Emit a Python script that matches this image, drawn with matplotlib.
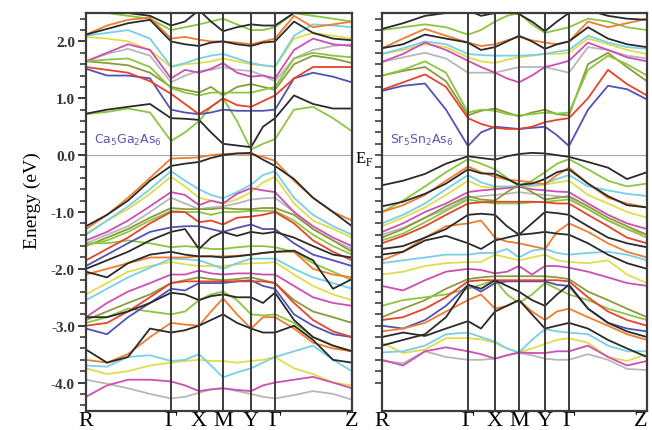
"""
Band structures of Ca5Ga2As6 and Sr5Sn2As6 along R-G-X-M-Y-G-Z.
Energies (eV) read off the reference picture at a fixed set of k nodes.
"""

import numpy as np
import matplotlib.pyplot as plt
from matplotlib.ticker import MultipleLocator, FuncFormatter

# k-node positions (arbitrary path units) and high-symmetry points
K_CA = [0, 21, 42, 64, 85, 99, 113, 125, 137, 151, 165, 177, 189, 208, 227, 247, 266]
K_SR = [0, 21, 43, 64, 86, 99, 113, 125, 137, 150, 163, 175, 187, 206, 226, 245, 265]
SYM_IDX = [0, 4, 6, 8, 10, 12, 16]
K_LABELS = ['R', 'Γ', 'X', 'M', 'Y', 'Γ', 'Z']

# ---- Ca5Ga2As6 ----
ca_black = [
    [0.73, 0.80, 0.85, 0.90, 0.65, 0.64, 0.62, 0.40, 0.20, 0.17, 0.14, 0.50, 0.65, 1.05, 0.90, 0.82, 0.82],
    [2.12, 2.22, 2.32, 2.38, 2.00, 1.95, 1.92, 1.98, 2.00, 1.95, 1.92, 1.98, 2.00, 2.35, 2.15, 2.05, 2.02],
    [2.60, 2.60, 2.50, 2.45, 2.28, 2.35, 2.55, 2.35, 2.18, 2.25, 2.30, 2.28, 2.28, 2.50, 2.60, 2.60, 2.60],
    [-1.25, -1.05, -0.80, -0.45, -0.19, -0.15, -0.12, -0.05, 0.00, 0.03, 0.04, -0.08, -0.19, -0.42, -0.75, -1.00, -1.25],
    [-2.00, -1.85, -1.70, -1.50, -1.35, -1.30, -1.65, -1.45, -1.35, -1.42, -1.35, -1.38, -1.35, -1.45, -1.60, -1.75, -1.80],
    [-2.05, -2.15, -1.90, -1.75, -1.70, -1.75, -1.78, -1.78, -1.80, -1.78, -1.75, -1.72, -1.70, -1.68, -1.85, -2.35, -2.18],
    [-2.85, -2.85, -2.75, -2.60, -2.42, -2.45, -2.55, -2.48, -2.45, -2.50, -2.50, -2.60, -2.42, -2.90, -3.20, -3.35, -3.45],
    [-3.42, -3.65, -3.55, -3.05, -3.12, -3.08, -3.00, -2.90, -2.80, -2.95, -3.05, -3.12, -3.12, -3.00, -3.25, -3.60, -3.65],
]
ca_green = [
    [0.72, 0.76, 0.82, 0.75, 0.25, 0.40, 0.60, 0.85, 1.00, 0.60, 0.10, 0.20, 0.28, 0.80, 0.85, 0.65, 0.42],
    [1.65, 1.68, 1.70, 1.55, 1.18, 1.10, 1.05, 1.10, 1.10, 1.10, 1.10, 1.15, 1.20, 1.70, 1.80, 1.75, 1.72],
    [2.55, 2.50, 2.45, 2.40, 2.20, 2.25, 2.30, 2.35, 2.40, 2.30, 2.20, 2.20, 2.25, 2.50, 2.45, 2.40, 2.35],
    [-1.58, -1.50, -1.35, -1.15, -0.98, -1.00, -1.00, -1.05, -1.00, -1.00, -0.98, -0.98, -0.98, -1.15, -1.40, -1.60, -1.75],
    [-1.55, -1.55, -1.50, -1.55, -1.62, -1.60, -1.62, -1.65, -1.65, -1.62, -1.60, -1.60, -1.62, -1.70, -1.90, -2.05, -2.20],
    [-2.95, -2.85, -2.70, -2.75, -2.80, -2.75, -2.55, -2.45, -2.40, -2.55, -2.80, -2.82, -2.80, -2.95, -3.20, -3.35, -3.45],
]
ca_blue = [
    [1.52, 1.40, 1.40, 1.35, 0.80, 0.75, 0.72, 0.75, 0.80, 0.78, 0.78, 0.78, 0.80, 1.35, 1.45, 1.38, 1.28],
    [-1.95, -1.75, -1.55, -1.35, -1.27, -1.25, -1.25, -1.30, -1.35, -1.28, -1.22, -1.30, -1.30, -1.55, -1.75, -1.85, -1.95],
    [-3.05, -3.15, -2.85, -2.60, -2.35, -2.38, -2.25, -2.25, -2.25, -2.22, -2.20, -2.30, -2.35, -2.80, -3.00, -3.15, -3.20],
]
ca_red = [
    [1.55, 1.50, 1.45, 1.30, 1.08, 0.90, 0.72, 0.85, 1.00, 0.88, 0.85, 0.95, 1.05, 1.35, 1.55, 1.55, 1.55],
    [-1.85, -1.65, -1.45, -1.20, -1.00, -1.00, -1.18, -1.15, -1.22, -1.10, -1.08, -1.05, -1.00, -1.20, -1.50, -1.70, -1.85],
    [-3.00, -2.95, -2.75, -2.50, -2.25, -2.22, -2.22, -2.22, -2.22, -2.22, -2.22, -2.22, -2.25, -2.60, -2.90, -3.10, -3.20],
]
ca_magenta = [
    [1.65, 1.80, 1.95, 1.85, 1.35, 1.50, 1.45, 1.52, 1.62, 1.45, 1.38, 1.40, 1.35, 1.85, 2.05, 1.95, 1.92],
    [-1.50, -1.35, -1.15, -0.90, -0.65, -0.70, -0.88, -0.80, -0.85, -0.68, -0.58, -0.62, -0.65, -1.00, -1.25, -1.45, -1.60],
    [-2.85, -2.60, -2.40, -2.25, -2.10, -2.10, -2.03, -2.08, -2.10, -2.08, -2.08, -2.10, -2.10, -2.30, -2.50, -2.60, -2.65],
    [-4.25, -4.05, -3.95, -3.95, -3.98, -4.05, -4.15, -4.12, -4.10, -4.13, -4.15, -4.05, -4.00, -3.95, -3.90, -4.00, -4.10],
]
ca_gray = [
    [1.65, 1.78, 1.87, 1.75, 1.28, 1.40, 1.48, 1.50, 1.55, 1.50, 1.48, 1.40, 1.30, 1.70, 1.85, 1.92, 1.95],
    [-1.55, -1.40, -1.25, -1.00, -0.75, -0.85, -0.95, -0.92, -0.90, -0.85, -0.78, -0.76, -0.75, -1.00, -1.30, -1.50, -1.65],
    [-3.95, -4.02, -4.10, -4.20, -4.28, -4.25, -4.18, -4.12, -4.10, -4.15, -4.20, -4.25, -4.28, -4.22, -4.15, -4.20, -4.30],
]
ca_yellow = [
    [2.08, 2.05, 2.00, 1.85, 1.55, 1.60, 1.62, 1.65, 1.70, 1.65, 1.60, 1.58, 1.55, 2.05, 2.15, 2.10, 2.05],
    [-1.38, -1.15, -0.95, -0.68, -0.38, -0.55, -0.75, -0.80, -0.85, -0.78, -0.65, -0.48, -0.38, -0.85, -1.15, -1.30, -1.45],
    [-2.45, -2.25, -2.05, -1.95, -1.88, -1.92, -1.95, -1.95, -1.95, -1.92, -1.90, -1.90, -1.88, -2.10, -2.30, -2.45, -2.55],
    [-3.75, -3.85, -3.80, -3.70, -3.65, -3.62, -3.60, -3.62, -3.62, -3.65, -3.62, -3.60, -3.55, -3.75, -3.85, -4.00, -4.05],
]
ca_cyan = [
    [2.10, 2.15, 2.20, 2.05, 1.56, 1.62, 1.70, 1.75, 1.78, 1.70, 1.62, 1.58, 1.56, 2.10, 2.30, 2.28, 2.25],
    [-1.40, -1.15, -0.90, -0.60, -0.28, -0.45, -0.60, -0.70, -0.76, -0.65, -0.52, -0.35, -0.28, -0.75, -1.05, -1.25, -1.40],
    [-2.55, -2.35, -2.15, -1.98, -1.82, -1.83, -1.85, -1.92, -2.00, -1.90, -1.82, -1.82, -1.82, -2.00, -2.15, -2.25, -2.35],
    [-3.70, -3.72, -3.55, -3.52, -3.62, -3.60, -3.50, -3.70, -3.91, -3.82, -3.75, -3.65, -3.55, -3.45, -3.35, -3.60, -3.80],
]
ca_olive = [
    [1.65, 1.62, 1.58, 1.45, 1.20, 1.15, 1.10, 1.20, 1.05, 1.20, 1.25, 1.20, 1.15, 1.60, 1.75, 1.70, 1.62],
    [-1.60, -1.45, -1.30, -1.10, -0.93, -0.95, -0.95, -0.95, -0.93, -0.95, -0.95, -0.93, -0.93, -1.05, -1.30, -1.50, -1.70],
    [-2.90, -2.75, -2.60, -2.45, -2.25, -2.20, -2.15, -2.18, -2.20, -2.18, -2.15, -2.20, -2.25, -2.55, -2.75, -2.85, -2.95],
]
ca_orange = [
    [2.12, 2.28, 2.38, 2.42, 2.05, 2.08, 2.03, 2.00, 2.00, 1.98, 1.95, 2.00, 2.05, 2.45, 2.25, 2.30, 2.35],
    [-1.30, -1.05, -0.75, -0.40, -0.06, -0.05, -0.04, 0.00, 0.02, 0.03, 0.02, -0.03, -0.10, -0.45, -0.75, -1.00, -1.15],
    [-2.10, -2.00, -1.90, -1.80, -1.80, -1.80, -1.78, -1.78, -1.78, -1.77, -1.75, -1.72, -1.70, -1.70, -2.00, -2.10, -2.15],
    [-3.60, -3.65, -3.50, -3.20, -2.95, -2.98, -3.00, -2.75, -2.52, -2.80, -3.05, -2.85, -2.85, -3.05, -3.30, -3.40, -3.45],
]

# ---- Sr5Sn2As6 ----
sr_black = [
    [1.88, 1.95, 2.12, 2.05, 1.98, 1.85, 1.90, 2.00, 2.10, 2.00, 1.87, 1.95, 2.00, 2.25, 2.05, 1.95, 1.90],
    [2.22, 2.32, 2.45, 2.50, 2.55, 2.45, 2.50, 2.55, 2.48, 2.35, 2.18, 2.35, 2.50, 2.55, 2.45, 2.40, 2.38],
    [-0.53, -0.45, -0.33, -0.15, -0.02, -0.05, -0.08, -0.02, 0.02, 0.04, 0.03, 0.00, -0.03, -0.12, -0.22, -0.42, -0.30],
    [-0.90, -0.82, -0.68, -0.50, -0.25, -0.32, -0.33, -0.42, -0.52, -0.50, -0.42, -0.30, -0.25, -0.50, -0.72, -0.88, -0.92],
    [-1.65, -1.60, -1.45, -1.30, -1.05, -1.03, -1.05, -1.25, -1.40, -1.20, -1.00, -1.02, -1.05, -1.25, -1.45, -1.55, -1.62],
    [-1.75, -1.70, -1.50, -1.42, -1.55, -1.65, -1.50, -1.45, -1.40, -1.38, -1.35, -1.38, -1.40, -1.55, -1.75, -1.90, -2.00],
    [-3.35, -3.25, -3.15, -2.85, -2.28, -2.35, -2.20, -2.30, -2.40, -2.55, -2.65, -2.45, -2.28, -2.70, -2.95, -3.10, -3.20],
    [-3.20, -3.12, -3.18, -3.05, -2.92, -3.05, -2.75, -2.65, -2.55, -2.80, -3.05, -3.00, -2.95, -3.05, -3.25, -3.40, -3.55],
]
sr_green = [
    [1.40, 1.50, 1.65, 1.45, 0.75, 0.80, 0.78, 0.72, 0.70, 0.72, 0.75, 0.73, 0.75, 1.50, 1.75, 1.60, 1.40],
    [2.20, 2.25, 2.30, 2.25, 2.12, 2.20, 2.35, 2.45, 2.50, 2.30, 2.15, 2.20, 2.25, 2.40, 2.35, 2.25, 2.20],
    [-1.00, -0.80, -0.55, -0.30, -0.07, -0.15, -0.25, -0.40, -0.55, -0.45, -0.30, -0.15, -0.07, -0.25, -0.45, -0.55, -0.50],
    [-1.50, -1.38, -1.18, -0.98, -0.78, -0.82, -0.85, -0.85, -0.85, -0.83, -0.82, -0.80, -0.78, -0.95, -1.15, -1.30, -1.45],
    [-2.65, -2.55, -2.50, -2.45, -2.35, -2.28, -2.20, -2.45, -2.60, -2.45, -2.25, -2.35, -2.45, -2.55, -2.70, -2.80, -2.90],
]
sr_blue = [
    [1.13, 1.22, 1.26, 0.80, 0.16, 0.40, 0.50, 0.48, 0.46, 0.48, 0.50, 0.35, 0.16, 0.80, 1.22, 1.16, 0.98],
    [-3.00, -3.05, -2.90, -2.65, -2.28, -2.40, -2.25, -2.22, -2.22, -2.22, -2.22, -2.28, -2.30, -2.70, -2.95, -3.05, -3.10],
]
sr_red = [
    [1.15, 1.28, 1.42, 1.20, 0.65, 0.55, 0.48, 0.46, 0.46, 0.50, 0.58, 0.62, 0.65, 1.00, 1.50, 1.25, 1.05],
    [-1.55, -1.42, -1.25, -1.05, -0.85, -0.83, -0.82, -0.82, -0.82, -0.82, -0.83, -0.85, -0.85, -1.05, -1.25, -1.45, -1.55],
    [-2.90, -2.85, -2.70, -2.50, -2.22, -2.20, -2.20, -2.20, -2.20, -2.20, -2.20, -2.20, -2.22, -2.50, -2.75, -2.90, -3.00],
]
sr_magenta = [
    [1.64, 1.78, 1.98, 1.85, 1.66, 1.55, 1.45, 1.35, 1.28, 1.40, 1.55, 1.60, 1.66, 1.98, 1.85, 1.72, 1.65],
    [-1.35, -1.20, -1.00, -0.85, -0.65, -0.62, -0.60, -0.58, -0.56, -0.60, -0.62, -0.64, -0.65, -0.85, -1.05, -1.20, -1.30],
    [-2.30, -2.38, -2.20, -2.05, -2.00, -2.02, -2.08, -2.05, -1.95, -2.10, -1.95, -1.95, -1.98, -2.05, -2.15, -2.25, -2.30],
    [-3.60, -3.70, -3.45, -3.38, -3.45, -3.50, -3.58, -3.52, -3.47, -3.48, -3.48, -3.45, -3.45, -3.35, -3.55, -3.70, -3.62],
]
sr_gray = [
    [1.64, 1.72, 1.80, 1.70, 1.45, 1.45, 1.45, 1.50, 1.55, 1.55, 1.55, 1.50, 1.45, 1.90, 1.85, 1.75, 1.70],
    [-1.40, -1.28, -1.10, -0.95, -0.75, -0.72, -0.70, -0.68, -0.65, -0.68, -0.70, -0.72, -0.75, -0.95, -1.15, -1.30, -1.40],
    [-3.62, -3.66, -3.45, -3.55, -3.60, -3.60, -3.58, -3.52, -3.48, -3.52, -3.58, -3.60, -3.60, -3.50, -3.60, -3.76, -3.78],
]
sr_yellow = [
    [1.78, 1.85, 1.95, 1.90, 1.72, 1.65, 1.62, 1.68, 1.72, 1.75, 1.78, 1.78, 1.80, 2.05, 1.95, 1.85, 1.78],
    [-1.25, -1.10, -0.92, -0.70, -0.45, -0.55, -0.58, -0.56, -0.55, -0.55, -0.52, -0.48, -0.45, -0.70, -0.85, -1.00, -1.10],
    [-2.10, -2.05, -1.95, -1.90, -1.88, -1.88, -1.75, -1.80, -1.85, -1.80, -1.75, -1.85, -1.88, -1.90, -1.85, -2.10, -2.25],
    [-3.30, -3.48, -3.42, -3.22, -3.22, -3.24, -3.30, -3.40, -3.47, -3.40, -3.32, -3.25, -3.22, -3.30, -3.55, -3.62, -3.50],
]
sr_cyan = [
    [1.78, 1.88, 2.00, 1.95, 1.78, 1.76, 1.75, 1.75, 1.75, 1.76, 1.78, 1.82, 1.85, 2.10, 1.98, 1.90, 1.87],
    [-1.20, -1.05, -0.85, -0.60, -0.35, -0.48, -0.55, -0.55, -0.55, -0.53, -0.50, -0.42, -0.35, -0.55, -0.62, -0.68, -0.72],
    [-1.90, -1.85, -1.80, -1.75, -1.75, -1.72, -1.72, -1.65, -1.80, -1.68, -1.65, -1.72, -1.75, -1.72, -1.70, -1.75, -1.85],
    [-3.47, -3.45, -3.35, -3.15, -3.12, -3.20, -3.28, -3.40, -3.47, -3.25, -3.06, -3.10, -3.12, -3.15, -3.35, -3.45, -3.45],
]
sr_olive = [
    [1.40, 1.48, 1.55, 1.30, 0.70, 0.78, 0.82, 0.75, 0.68, 0.75, 0.80, 0.72, 0.70, 1.60, 1.80, 1.55, 1.30],
    [-1.45, -1.30, -1.10, -0.90, -0.72, -0.78, -0.80, -0.65, -0.52, -0.65, -0.78, -0.75, -0.72, -0.90, -1.10, -1.25, -1.40],
    [-2.85, -2.70, -2.55, -2.35, -2.18, -2.15, -2.13, -2.13, -2.13, -2.13, -2.13, -2.15, -2.18, -2.40, -2.55, -2.70, -2.85],
]
sr_orange = [
    [1.88, 2.05, 2.22, 2.10, 1.98, 1.92, 1.95, 2.02, 2.08, 2.02, 1.98, 1.95, 2.00, 2.35, 2.25, 2.32, 2.40],
    [-1.00, -0.88, -0.70, -0.45, -0.20, -0.30, -0.38, -0.43, -0.45, -0.48, -0.51, -0.35, -0.22, -0.50, -0.75, -0.85, -0.92],
    [-1.85, -1.70, -1.45, -1.25, -1.20, -1.15, -1.45, -1.52, -1.55, -1.60, -1.65, -1.35, -1.20, -1.35, -1.55, -1.70, -1.80],
    [-3.10, -3.05, -2.95, -2.75, -2.55, -2.45, -2.70, -2.65, -2.55, -2.75, -2.90, -2.75, -2.70, -2.85, -3.00, -3.15, -3.25],
]

COLORS = {
    'black': '#2a2a2a', 'green': '#8cc63f', 'blue': '#5252b4', 'red': '#e6432b',
    'magenta': '#cc50b4', 'gray': '#b8b8b8', 'yellow': '#e2dc4c', 'cyan': '#78cfe8',
    'olive': '#8e993c', 'orange': '#f07d2c',
}
SERIF = 'Liberation Serif'
FRAME = '#3c3c3c'


def draw_panel(ax, kpos, groups, name):
    for cname, bands in groups:
        for b in bands:
            ax.plot(kpos, b, color=COLORS[cname], lw=1.3, zorder=2,
                    solid_joinstyle='round', solid_capstyle='round')
    ax.axhline(0, color='#a8a8a8', lw=0.8, zorder=1)
    for i in SYM_IDX[1:-1]:
        ax.axvline(kpos[i], color=FRAME, lw=1.4, zorder=3)
    ax.set_xlim(kpos[0], kpos[-1])
    ax.set_ylim(-4.5, 2.5)
    ax.set_xticks([kpos[i] for i in SYM_IDX], labels=K_LABELS,
                  fontfamily=SERIF, fontsize=16)
    ax.tick_params(axis='x', length=0, pad=0)
    for s in ax.spines.values():
        s.set_color(FRAME)
        s.set_linewidth(1.6)
    ax.text(8, 0.28, name, color='#5656b6', fontsize=9, va='center', zorder=4)


fig = plt.figure(figsize=(6.52, 4.31), dpi=100)
ax1 = fig.add_axes([0.1319, 0.0441, 0.408, 0.9234])
ax2 = fig.add_axes([0.5859, 0.0441, 0.4064, 0.9234])

draw_panel(ax1, K_CA, [('gray', ca_gray), ('yellow', ca_yellow), ('cyan', ca_cyan),
                       ('magenta', ca_magenta), ('olive', ca_olive), ('green', ca_green),
                       ('blue', ca_blue), ('red', ca_red), ('orange', ca_orange),
                       ('black', ca_black)], r'Ca$_5$Ga$_2$As$_6$')
draw_panel(ax2, K_SR, [('gray', sr_gray), ('yellow', sr_yellow), ('cyan', sr_cyan),
                       ('magenta', sr_magenta), ('olive', sr_olive), ('green', sr_green),
                       ('blue', sr_blue), ('red', sr_red), ('orange', sr_orange),
                       ('black', sr_black)], r'Sr$_5$Sn$_2$As$_6$')

# the last Z sits at the figure edge: keep it inside
ax2.get_xticklabels()[-1].set_horizontalalignment('right')

# left axis: labelled majors, short minors
yt = [-4, -3, -2, -1, 0, 1, 2]
ax1.set_yticks(yt, labels=[f"{v:.1f}" for v in yt], fontfamily=SERIF,
               fontsize=11, fontweight='bold', color='#333333')
ax1.yaxis.set_minor_locator(MultipleLocator(0.2))
ax1.tick_params(axis='y', which='major', direction='out', length=6, width=1.4, color=FRAME, pad=2)
ax1.tick_params(axis='y', which='minor', direction='out', length=4, width=1.2, color=FRAME)
ax1.set_ylabel('Energy (eV)', fontfamily=SERIF, fontsize=14)
ax1.yaxis.set_label_coords(-0.17, 0.53)

# right axis: every 0.2 eV, only E_F labelled
ax2.set_yticks(np.round(np.arange(-4.0, 2.41, 0.2), 1))
ax2.yaxis.set_major_formatter(FuncFormatter(lambda v, p: r'E$_\mathregular{F}$' if abs(v) < 1e-6 else ''))
ax2.tick_params(axis='y', direction='out', length=5, width=1.2, color=FRAME, pad=1,
                labelsize=12)
for t in ax2.get_yticklabels():
    t.set_fontfamily(SERIF)

fig.savefig('out.png', dpi=100)
